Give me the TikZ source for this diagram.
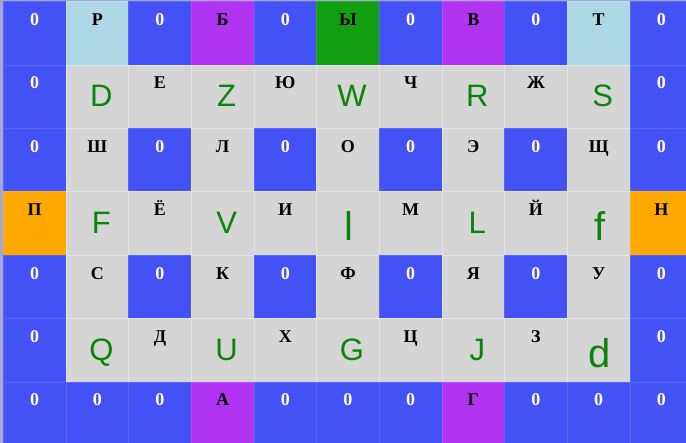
\documentclass[tikz,border=0pt]{standalone}
\usepackage{fontspec}
\setmainfont{Liberation Serif}
\newfontfamily\arialfont{Liberation Sans}
\usetikzlibrary{positioning}
\definecolor{GridBlue}{HTML}{4252F4}
\definecolor{GridLight}{HTML}{ADD8E6}
\definecolor{GridViolet}{HTML}{B034F2}
\definecolor{GridGreen}{HTML}{12A012}
\definecolor{GridOrange}{HTML}{FFA800}
\definecolor{GridGray}{HTML}{D5D5D5}
\definecolor{GridEdge}{HTML}{A4A6DC}
\definecolor{LetterGreen}{HTML}{0A850A}
\tikzset{
  cell/.style={rectangle,minimum width=62.67pt,minimum height=63.4pt,inner sep=0pt,outer sep=0pt,anchor=north west,line width=0.6pt},
  cblue/.style={cell,fill=GridBlue,draw=GridBlue!88!white},
  clight/.style={cell,fill=GridLight,draw=GridLight!85!white},
  cviolet/.style={cell,fill=GridViolet,draw=GridViolet!88!white},
  cgreen/.style={cell,fill=GridGreen,draw=GridGreen!88!white},
  corange/.style={cell,fill=GridOrange,draw=GridOrange!88!white},
  cgray/.style={cell,fill=GridGray,draw=GridGray!65!white},
  zerotxt/.style={anchor=base,inner sep=0pt,text=white,font=\fontsize{18}{18}\selectfont\bfseries,yshift=-24pt},
  cyrtxt/.style={anchor=base,inner sep=0pt,text=black,font=\fontsize{18}{18}\selectfont\bfseries,yshift=-24pt},
  captxt/.style={anchor=base,inner sep=0pt,text=LetterGreen,font=\arialfont\fontsize{31}{31}\selectfont,yshift=-42pt,xshift=4pt},
  lowtxt/.style={anchor=base,inner sep=0pt,text=LetterGreen,font=\arialfont\fontsize{40}{40}\selectfont,yshift=-49pt,xshift=1pt}
}
\begin{document}
\begin{tikzpicture}[x=62.67pt,y=-63.4pt]
  \useasboundingbox (-3.3pt,1.6pt) rectangle (682.7pt,-441.4pt);
  \fill[GridEdge] (-3.3pt,1.6pt) rectangle (682.7pt,-441.4pt);
  % one row per entry: fill style / text style / text
  \foreach \r/\row in {
    0/{cblue/zerotxt/0,clight/cyrtxt/Р,cblue/zerotxt/0,cviolet/cyrtxt/Б,cblue/zerotxt/0,cgreen/cyrtxt/Ы,cblue/zerotxt/0,cviolet/cyrtxt/В,cblue/zerotxt/0,clight/cyrtxt/Т,cblue/zerotxt/0},
    1/{cblue/zerotxt/0,cgray/captxt/D,cgray/cyrtxt/Е,cgray/captxt/Z,cgray/cyrtxt/Ю,cgray/captxt/W,cgray/cyrtxt/Ч,cgray/captxt/R,cgray/cyrtxt/Ж,cgray/captxt/S,cblue/zerotxt/0},
    2/{cblue/zerotxt/0,cgray/cyrtxt/Ш,cblue/zerotxt/0,cgray/cyrtxt/Л,cblue/zerotxt/0,cgray/cyrtxt/О,cblue/zerotxt/0,cgray/cyrtxt/Э,cblue/zerotxt/0,cgray/cyrtxt/Щ,cblue/zerotxt/0},
    3/{corange/cyrtxt/П,cgray/captxt/F,cgray/cyrtxt/Ё,cgray/captxt/V,cgray/cyrtxt/И,cgray/lowtxt/l,cgray/cyrtxt/М,cgray/captxt/L,cgray/cyrtxt/Й,cgray/lowtxt/f,corange/cyrtxt/Н},
    4/{cblue/zerotxt/0,cgray/cyrtxt/С,cblue/zerotxt/0,cgray/cyrtxt/К,cblue/zerotxt/0,cgray/cyrtxt/Ф,cblue/zerotxt/0,cgray/cyrtxt/Я,cblue/zerotxt/0,cgray/cyrtxt/У,cblue/zerotxt/0},
    5/{cblue/zerotxt/0,cgray/captxt/Q,cgray/cyrtxt/Д,cgray/captxt/U,cgray/cyrtxt/Х,cgray/captxt/G,cgray/cyrtxt/Ц,cgray/captxt/J,cgray/cyrtxt/З,cgray/lowtxt/d,cblue/zerotxt/0},
    6/{cblue/zerotxt/0,cblue/zerotxt/0,cblue/zerotxt/0,cviolet/cyrtxt/А,cblue/zerotxt/0,cblue/zerotxt/0,cblue/zerotxt/0,cviolet/cyrtxt/Г,cblue/zerotxt/0,cblue/zerotxt/0,cblue/zerotxt/0}}
    \foreach \f/\s/\t [count=\c from 0] in \row {
      \node[\f] (c\c-\r) at (\c,\r) {};
      \node[\s] (t\c-\r) at (c\c-\r.north) {\t};
    }
\end{tikzpicture}
\end{document}
